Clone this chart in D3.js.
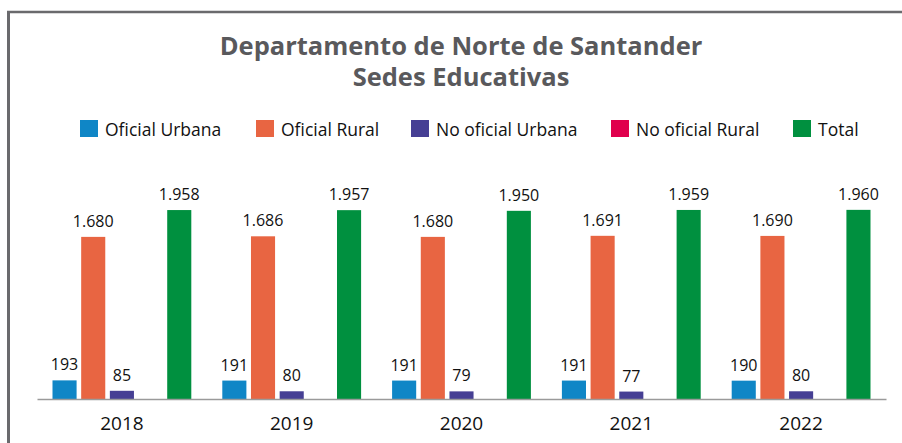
<!DOCTYPE html>
<html lang="es">
<head>
    <meta charset="UTF-8">
    <title>Sedes Educativas</title>
    <script src="https://d3js.org/d3.v7.min.js"></script>
    <style>
        body { margin: 0; background: #fff; }
        svg { display: block; font-family: "Open Sans", sans-serif; }
    </style>
</head>
<body>
    <div id="chart"></div>
    <script>
        // Datos
        var years = ["2018", "2019", "2020", "2021", "2022"];
        var series = ["Oficial Urbana", "Oficial Rural", "No oficial Urbana", "No oficial Rural", "Total"];
        var colors = ["#0f86c6", "#e86542", "#463f94", "#e0004d", "#00903f"];
        var oficialUrbana = [193, 191, 191, 191, 190];
        var oficialRural = [1680, 1686, 1680, 1691, 1690];
        var noOficialUrbana = [85, 80, 79, 77, 80];
        var noOficialRural = [0, 0, 0, 0, 0];
        var total = [1958, 1957, 1950, 1959, 1960];

        var values = [oficialUrbana, oficialRural, noOficialUrbana, noOficialRural, total];
        var fmt = function(v) { return d3.format(",")(v).replace(/,/g, "."); };

        var width = 902, height = 443;
        var svg = d3.select("#chart").append("svg")
            .attr("width", width)
            .attr("height", height);

        // Rahmen (links und oben)
        svg.append("line").attr("x1", 8.5).attr("x2", 8.5).attr("y1", 11).attr("y2", height)
            .attr("stroke", "#6a6a6d").attr("stroke-width", 3);
        svg.append("line").attr("x1", 7).attr("x2", width).attr("y1", 12).attr("y2", 12)
            .attr("stroke", "#6a6a6d").attr("stroke-width", 2.5);

        // Titel
        var title = svg.append("text")
            .attr("text-anchor", "middle")
            .attr("fill", "#59595c")
            .attr("font-weight", "bold")
            .attr("font-size", 25.5);
        title.append("tspan").attr("x", 461).attr("y", 55).text("Departamento de Norte de Santander");
        title.append("tspan").attr("x", 461).attr("y", 86).text("Sedes Educativas");

        // Legende
        var legendX = [80, 256, 411, 611, 793];
        var legend = svg.append("g").selectAll("g")
            .data(series)
            .join("g")
            .attr("transform", (d, i) => "translate(" + legendX[i] + ",120)");
        legend.append("rect")
            .attr("width", 18).attr("height", 17)
            .attr("fill", (d, i) => colors[i]);
        legend.append("text")
            .attr("x", 25).attr("y", 16)
            .attr("font-size", 17.5)
            .attr("fill", "#111")
            .text(d => d);

        // Skalen
        var x0 = d3.scaleBand().domain(years).range([37, 886]);
        var x1 = d3.scaleBand().domain(series).range([15.5, 154.3]).paddingInner(0.16);
        var y = d3.scaleLinear().domain([0, 2000]).range([399, 206]);

        var groups = svg.append("g").selectAll("g")
            .data(years)
            .join("g")
            .attr("transform", d => "translate(" + x0(d) + ",0)");

        groups.selectAll("rect")
            .data((d, yi) => series.map((s, si) => ({ s: s, si: si, v: values[si][yi] })))
            .join("rect")
            .attr("x", d => x1(d.s))
            .attr("y", d => y(d.v))
            .attr("width", x1.bandwidth())
            .attr("height", d => y(0) - y(d.v))
            .attr("fill", d => colors[d.si]);

        groups.selectAll("text.val")
            .data((d, yi) => series.map((s, si) => ({ s: s, si: si, v: values[si][yi] })).filter(d => d.v > 0))
            .join("text")
            .attr("class", "val")
            .attr("x", d => x1(d.s) + x1.bandwidth() / 2)
            .attr("y", d => y(d.v) - 10)
            .attr("text-anchor", "middle")
            .attr("font-size", 16)
            .attr("fill", "#111")
            .text(d => fmt(d.v));

        // Achse
        var axis = svg.append("g")
            .attr("transform", "translate(0," + y(0) + ")")
            .call(d3.axisBottom(x0).tickSize(0).tickPadding(18));
        axis.select(".domain").attr("stroke", "#9a9a9a").attr("stroke-width", 1.5);
        axis.selectAll("text")
            .attr("font-size", 19)
            .attr("fill", "#111")
            .attr("font-family", "'Open Sans', sans-serif");
    </script>
</body>
</html>
